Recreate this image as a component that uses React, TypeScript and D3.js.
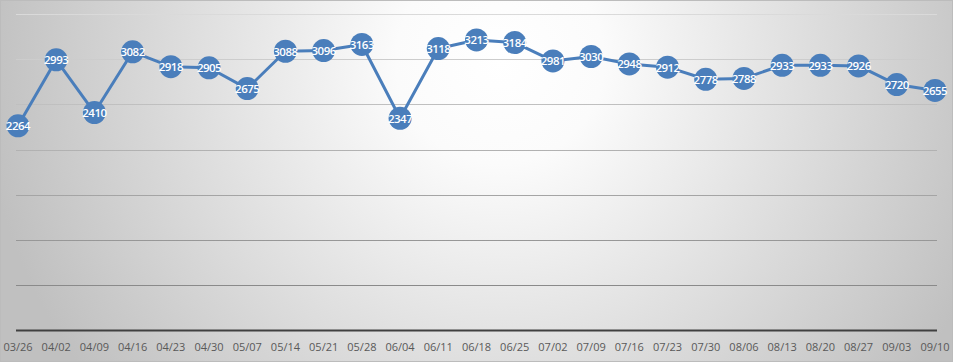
import React from 'react';
import * as d3 from 'd3';

const dates = [
  '03/26', '04/02', '04/09', '04/16', '04/23', '04/30', '05/07', '05/14', '05/21',
  '05/28', '06/04', '06/11', '06/18', '06/25', '07/02', '07/09', '07/16', '07/23',
  '07/30', '08/06', '08/13', '08/20', '08/27', '09/03', '09/10',
];
const counts = [
  2264, 2993, 2410, 3082, 2918, 2905, 2675, 3088, 3096, 3163, 2347, 3118, 3213,
  3184, 2981, 3030, 2948, 2912, 2778, 2788, 2933, 2933, 2926, 2720, 2655,
];
const gridValues = [500, 1000, 1500, 2000, 2500, 3000, 3500];

const W = 953;
const H = 362;
const plotLeft = 16;
const plotRight = 937;
const plotTop = 14;
const plotBottom = 330.5;
const blue = '#4a7ebb';

const App: React.FC = () => {
  const x = d3.scalePoint<string>().domain(dates).range([18, 935]);
  const y = d3.scaleLinear().domain([0, 3500]).range([plotBottom, plotTop]);

  const line = d3.line<number>()
    .x((d, i) => x(dates[i]) as number)
    .y(d => y(d));

  return (
    <>
      <style>{`body{margin:0}`}</style>
      <svg width={W} height={H} style={{ display: 'block' }}>
        <defs>
          <radialGradient id="bg" gradientUnits="userSpaceOnUse" cx={500} cy={60} r={520}>
            <stop offset="0" stopColor="#ffffff" />
            <stop offset="0.2" stopColor="#fbfbfb" />
            <stop offset="1" stopColor="#c0c0c0" />
          </radialGradient>
          <linearGradient id="grid" gradientUnits="userSpaceOnUse" x1={0} y1={plotTop} x2={0} y2={285}>
            <stop offset="0" stopColor="#dadada" />
            <stop offset="1" stopColor="#8a8a8a" />
          </linearGradient>
        </defs>
        <rect x={0.5} y={0.5} width={W - 1} height={H - 1} fill="url(#bg)" stroke="#bcbcbc" />

        {gridValues.map(v => (
          <line key={v} x1={plotLeft} x2={plotRight} y1={Math.round(y(v)) + 0.5} y2={Math.round(y(v)) + 0.5}
            stroke="url(#grid)" strokeWidth={1.2} />
        ))}
        <line x1={plotLeft} x2={plotRight} y1={plotBottom} y2={plotBottom} stroke="#404040" strokeWidth={2.2} />

        {dates.map(d => (
          <text key={d} x={x(d)} y={346} textAnchor="middle" dominantBaseline="central"
            fontFamily="'Open Sans', sans-serif" fontSize={11} fill="#595959">{d}</text>
        ))}

        <path d={line(counts) || ''} fill="none" stroke={blue} strokeWidth={3} strokeLinejoin="round" />
        {counts.map((v, i) => (
          <g key={i}>
            <circle cx={x(dates[i])} cy={y(v)} r={11.5} fill={blue} />
            <text x={x(dates[i])} y={y(v)} textAnchor="middle" dominantBaseline="central"
              fontFamily="'Open Sans', sans-serif" fontSize={11.5} fontWeight={600} fill="#ffffff"
              letterSpacing={-0.5}>{v}</text>
          </g>
        ))}
      </svg>
    </>
  );
};

export default App;
